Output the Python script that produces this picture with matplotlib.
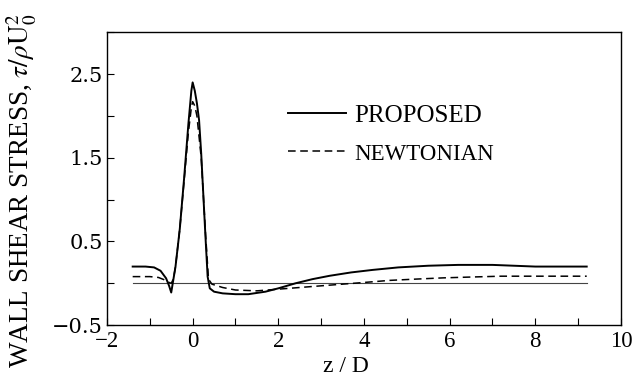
import matplotlib.pyplot as plt
from matplotlib.ticker import MultipleLocator

plt.rcParams['font.family'] = ['Liberation Serif', 'DejaVu Serif']
plt.rcParams['mathtext.fontset'] = 'stix'

# PROPOSED (linea continua)
z_prop = [-1.4, -1.1, -0.9, -0.75, -0.62, -0.55, -0.5, -0.4, -0.3, -0.2, -0.1,
          -0.03, 0.0, 0.05, 0.1, 0.15, 0.2, 0.25, 0.3, 0.35, 0.4, 0.5, 0.7, 1.0,
          1.3, 1.7, 2.0, 2.4, 2.8, 3.2, 3.7, 4.2, 4.8, 5.5, 6.2, 7.0, 7.5, 8.0,
          8.6, 9.2]
tau_prop = [0.20, 0.20, 0.19, 0.15, 0.06, -0.03, -0.11, 0.20, 0.65, 1.25, 1.90,
            2.30, 2.40, 2.30, 2.15, 1.95, 1.55, 1.05, 0.55, 0.08, -0.06, -0.10,
            -0.12, -0.13, -0.13, -0.10, -0.06, 0.0, 0.05, 0.09, 0.13, 0.16,
            0.19, 0.21, 0.22, 0.22, 0.21, 0.20, 0.20, 0.20]

# NEWTONIAN (linea discontinua)
z_newt = [-1.4, -1.0, -0.8, -0.65, -0.55, -0.5, -0.45, -0.4, -0.3, -0.2, -0.1,
          -0.03, 0.0, 0.05, 0.1, 0.2, 0.3, 0.37, 0.45, 0.7, 1.0, 1.5, 2.0, 2.5,
          3.0, 3.5, 4.0, 4.6, 5.2, 5.85, 6.5, 7.2, 8.0, 9.2]
tau_newt = [0.08, 0.08, 0.07, 0.04, 0.01, 0.0, 0.05, 0.20, 0.65, 1.22, 1.80,
            2.10, 2.17, 2.12, 2.00, 1.50, 0.60, 0.05, -0.01, -0.05, -0.08,
            -0.09, -0.07, -0.05, -0.03, -0.01, 0.01, 0.035, 0.05, 0.065, 0.075,
            0.085, 0.085, 0.085]

z_ref = [-1.4, 9.2]
tau_ref = [0.0, 0.0]

yticks = [-0.5, 0.5, 1.5, 2.5]
ytick_labels = ['\u22120.5', '0.5', '1.5', '2.5']

fig = plt.figure(figsize=(6.33, 3.83), dpi=100)
ax = fig.add_axes([0.169, 0.151, 0.812, 0.765])

ax.plot(z_ref, tau_ref, color='#444444', lw=0.8)
ax.plot(z_prop, tau_prop, color='black', lw=1.4, label='PROPOSED')
ax.plot(z_newt, tau_newt, color='black', lw=1.1, dashes=(5, 3), label='NEWTONIAN')

ax.set_xlim(-2, 10)
ax.set_ylim(-0.5, 3.0)
ax.xaxis.set_major_locator(MultipleLocator(2))
ax.xaxis.set_minor_locator(MultipleLocator(1))
ax.set_yticks(yticks)
ax.set_yticklabels(ytick_labels, fontfamily='DejaVu Serif', fontsize=15)
ax.yaxis.set_minor_locator(MultipleLocator(0.5))
ax.tick_params(which='both', direction='in', length=5, width=0.8, pad=4,
               top=False, right=False)
ax.tick_params(axis='x', labelsize=16.5)
ax.tick_params(axis='y', pad=3)

ax.set_xlabel('z / D', fontsize=17)
ax.xaxis.set_label_coords(0.465, -0.105)
ax.set_ylabel(r'WALL SHEAR STRESS, $\tau/\rho \mathrm{U}_0^2$', fontsize=19.5)
ax.yaxis.set_label_coords(-0.133, 0.457)

leg = ax.legend(loc='upper left', bbox_to_anchor=(0.353, 0.753), frameon=False,
                fontsize=18, handlelength=2.3, handletextpad=0.35,
                labelspacing=0.62, borderpad=0, borderaxespad=0)
leg.get_texts()[1].set_fontsize(16.5)

for s in ax.spines.values():
    s.set_linewidth(1.0)

fig.savefig('out.png', dpi=100)
